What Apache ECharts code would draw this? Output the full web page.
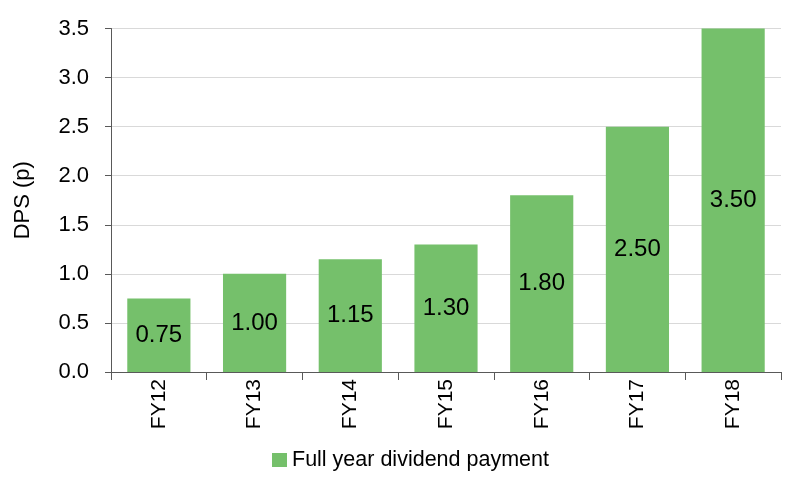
<!DOCTYPE html>
<html>
<head>
<meta charset="utf-8">
<script src="https://cdn.jsdelivr.net/npm/echarts@6/dist/echarts.min.js"></script>
<style>html,body{margin:0;padding:0;background:#fff;}#c{width:800px;height:482px;}</style>
</head>
<body>
<div id="c"></div>
<script>
const categories = ['FY12', 'FY13', 'FY14', 'FY15', 'FY16', 'FY17', 'FY18'];
const dividendValues = [0.75, 1.00, 1.15, 1.30, 1.80, 2.50, 3.50];
const seriesName = 'Full year dividend payment';
const yAxisName = 'DPS (p)';

const FONT = '"Liberation Sans", Arial, sans-serif';
const chart = echarts.init(document.getElementById('c'), null, {renderer: 'canvas'});
chart.setOption({
  animation: false,
  textStyle: {fontFamily: FONT},
  grid: {left: 111, right: 19, top: 28.5, bottom: 110, containLabel: false},
  legend: {
    data: [seriesName],
    left: 267,
    top: 444,
    itemWidth: 15,
    itemHeight: 14,
    icon: 'rect',
    textStyle: {fontFamily: FONT, fontSize: 21.5, color: '#000'}
  },
  xAxis: {
    type: 'category',
    data: categories,
    axisLine: {lineStyle: {color: '#595959', width: 1}},
    axisTick: {show: true, length: 8, lineStyle: {color: '#595959'}},
    axisLabel: {rotate: 90, margin: 7, fontFamily: FONT, fontSize: 21, color: '#000'}
  },
  yAxis: {
    type: 'value',
    min: 0, max: 3.5, interval: 0.5,
    name: yAxisName,
    nameLocation: 'middle',
    nameGap: 77,
    nameRotate: 90,
    nameTextStyle: {fontFamily: FONT, fontSize: 22, color: '#000'},
    axisLine: {show: true, lineStyle: {color: '#595959', width: 1}},
    axisTick: {show: true, length: 6, lineStyle: {color: '#595959'}},
    axisLabel: {margin: 22, fontFamily: FONT, fontSize: 22, color: '#000',
      formatter: v => v.toFixed(1)},
    splitLine: {lineStyle: {color: '#d9d9d9', width: 1}}
  },
  series: [{
    name: seriesName,
    type: 'bar',
    data: dividendValues,
    barWidth: '66%',
    itemStyle: {color: '#75c06b'},
    label: {
      show: true, position: 'inside', color: '#000',
      fontFamily: FONT, fontSize: 24,
      formatter: p => p.value.toFixed(2)
    }
  }]
});
</script>
</body>
</html>
